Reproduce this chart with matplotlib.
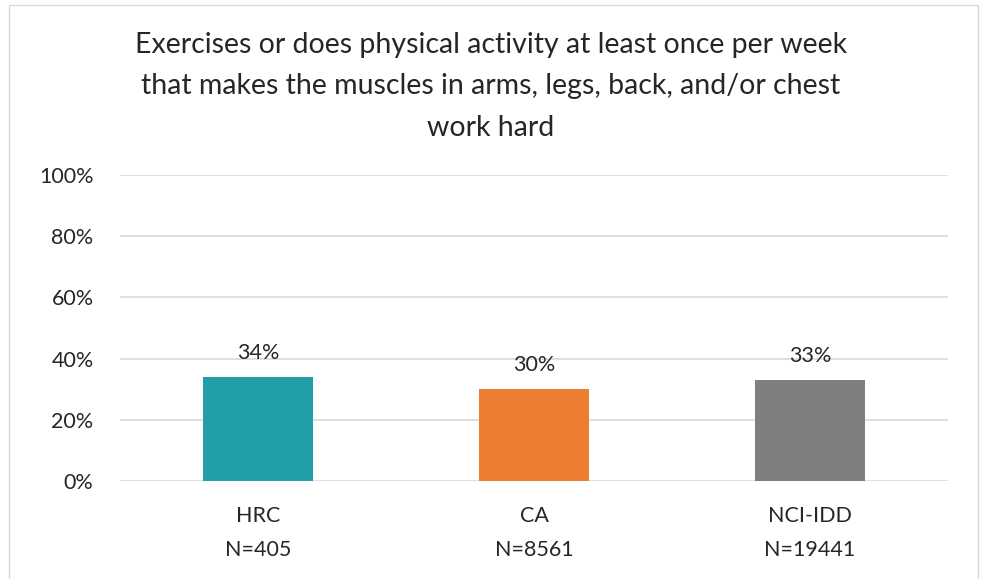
import matplotlib.pyplot as plt
from matplotlib.patches import Rectangle

categories = ["HRC\nN=405", "CA\nN=8561", "NCI-IDD\nN=19441"]
values = [34, 30, 33]
colors = ["#229EA8", "#ED7D31", "#7F7F7F"]
title = ("Exercises or does physical activity at least once per week\n"
         "that makes the muscles in arms, legs, back, and/or chest\n"
         "work hard")

plt.rcParams['font.family'] = ['Lato', 'DejaVu Sans']

fig = plt.figure(figsize=(9.82, 5.79), dpi=100)
ax = fig.add_axes([0.1222, 0.1693, 0.8432, 0.5284])

x = range(len(categories))
bars = ax.bar(x, values, width=0.40, color=colors, zorder=3)
for b, v in zip(bars, values):
    ax.annotate(f"{v}%", (b.get_x() + b.get_width() / 2, v),
                xytext=(0, 10), textcoords="offset points",
                ha="center", va="bottom", fontsize=15.5, color="#262626")

ax.set_ylim(0, 100)
ax.set_xlim(-0.5, 2.5)
ax.set_yticks(range(0, 101, 20))
ax.set_yticklabels([f"{t}%" for t in range(0, 101, 20)])
ax.set_xticks(list(x))
ax.set_xticklabels(categories, linespacing=1.9)
ax.grid(axis="y", color="#d9d9d9", linewidth=1.2, zorder=0)
for s in ax.spines.values():
    s.set_visible(False)
ax.tick_params(axis="both", length=0, labelsize=15.5, colors="#262626")
ax.tick_params(axis="y", pad=19)
ax.tick_params(axis="x", pad=18)

fig.text(0.5, 0.945, title, ha="center", va="top", fontsize=20.5,
         color="#262626", linespacing=1.73)

fig.patches.append(Rectangle((0.009, -0.01), 0.987, 1.002, transform=fig.transFigure,
                             fill=False, edgecolor="#d9d9d9", linewidth=1))

fig.savefig("out.png", dpi=100)
